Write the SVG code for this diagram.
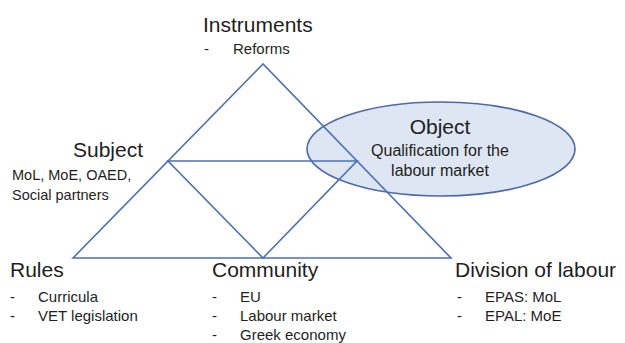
<svg xmlns="http://www.w3.org/2000/svg" width="625" height="343" viewBox="0 0 625 343">
<style>
text{font-family:"Liberation Sans",Arial,sans-serif;fill:#1e1e1e}
.h{font-size:21px}
.s{font-size:15px}
.ln{stroke:#4a72b8;stroke-width:1.6;fill:none}
</style>
<rect width="625" height="343" fill="#fff"/>
<g id="object">
<ellipse cx="441" cy="149" rx="134" ry="47" fill="#dfe6f3" stroke="#4a6aa8" stroke-width="1.6"/>
<text class="h" x="440" y="134" text-anchor="middle">Object</text>
<text class="s" x="440" y="156" text-anchor="middle" style="font-size:16px">Qualification for the</text>
<text class="s" x="440" y="176" text-anchor="middle" style="font-size:16px">labour market</text>
</g>
<g id="connectors">
<polygon class="ln" points="263,64 73,258 451,258"/>
<polygon class="ln" points="168,161 357,161 263,258"/>
</g>
<g id="instruments">
<text class="h" x="203" y="32">Instruments</text>
<text class="s" x="204" y="54">-</text>
<text class="s" x="233" y="54">Reforms</text>
</g>
<g id="subject">
<text class="h" x="143" y="157" text-anchor="end">Subject</text>
<text class="s" x="12" y="180" style="font-size:14.5px">MoL, MoE, OAED,</text>
<text class="s" x="12" y="200" style="font-size:14.5px">Social partners</text>
</g>
<g id="rules">
<text class="h" x="10" y="277">Rules</text>
<text class="s" x="10" y="302">-</text>
<text class="s" x="38" y="302">Curricula</text>
<text class="s" x="10" y="321">-</text>
<text class="s" x="38" y="321">VET legislation</text>
</g>
<g id="community">
<text class="h" x="212" y="277">Community</text>
<text class="s" x="212" y="302">-</text>
<text class="s" x="240" y="302">EU</text>
<text class="s" x="212" y="321">-</text>
<text class="s" x="240" y="321">Labour market</text>
<text class="s" x="212" y="340">-</text>
<text class="s" x="240" y="340">Greek economy</text>
</g>
<g id="division">
<text class="h" x="455" y="277">Division of labour</text>
<text class="s" x="457" y="302">-</text>
<text class="s" x="485" y="302">EPAS: MoL</text>
<text class="s" x="457" y="321">-</text>
<text class="s" x="485" y="321">EPAL: MoE</text>
</g>
</svg>
